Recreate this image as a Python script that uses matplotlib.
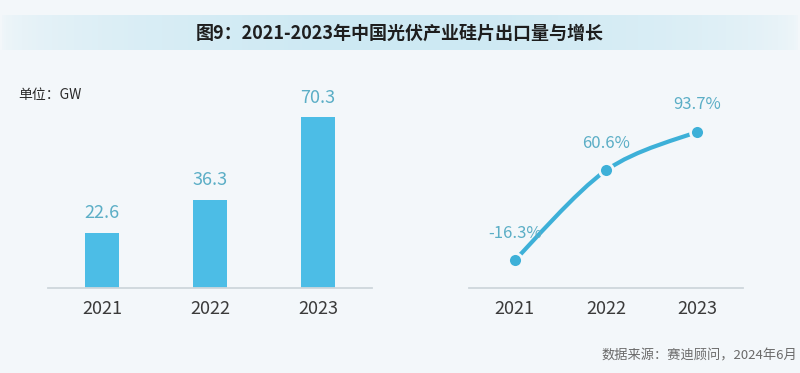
import numpy as np
import matplotlib
matplotlib.use('Agg')
import matplotlib.pyplot as plt
from matplotlib.path import Path
from matplotlib.patches import PathPatch

plt.rcParams['font.family'] = ['Noto Sans CJK SC', 'DejaVu Sans']

years = ['2021', '2022', '2023']
exports = [22.6, 36.3, 70.3]          # 出口量 GW
growth = [-16.3, 60.6, 93.7]          # 增长 %

bar_c = '#4CBDE6'
line_c = '#3DB0D8'
lab_c = '#5BAEC6'
txt_c = '#3A3A3A'
axis_c = '#CED6DC'

fig = plt.figure(figsize=(8, 3.73), dpi=100)
fig.patch.set_facecolor('#F3F7FA')

# title band with horizontal gradient
band = fig.add_axes([0, 1 - 50 / 373, 1, 35 / 373])
grad = np.abs(np.linspace(-1, 1, 400))
grad = np.clip((1 - grad) / 0.85, 0, 1) ** 0.45
cols = np.ones((1, 400, 3))
lo = np.array([0xF3, 0xF7, 0xFA]) / 255
hi = np.array([0xCD, 0xE9, 0xF3]) / 255
cols[0] = lo + (hi - lo) * grad[:, None]
band.imshow(cols, aspect='auto', extent=[0, 1, 0, 1])
band.set_axis_off()
fig.text(0.5, 1 - 33 / 373, '图9：2021-2023年中国光伏产业硅片出口量与增长',
         ha='center', va='center', fontsize=13, fontweight='bold', color='#1E1E1E')

# left: bars
ax1 = fig.add_axes([48 / 800, 85 / 373, 324 / 800, 228 / 373])
x = np.arange(len(years))
ax1.bar(x, exports, width=0.31, color=bar_c, zorder=2)
for xi, v in zip(x, exports):
    ax1.text(xi, v + 4.5, f'{v:.1f}', ha='center', va='bottom', fontsize=13, color=lab_c)
ax1.set_xlim(-0.5, 2.5)
ax1.set_ylim(0, 94)
ax1.set_xticks(x)
ax1.set_xticklabels(years, fontsize=13, color=txt_c)
ax1.tick_params(axis='x', length=0, pad=9)
ax1.set_yticks([])
for s in ['top', 'right', 'left']:
    ax1.spines[s].set_visible(False)
ax1.spines['bottom'].set_color(axis_c)
ax1.spines['bottom'].set_linewidth(1.3)
ax1.set_facecolor('none')
fig.text(18 / 800, 1 - 95 / 373, '单位：GW', ha='left', va='center', fontsize=10, color='#2A2A2A')

# right: smooth growth line
ax2 = fig.add_axes([469 / 800, 85 / 373, 274 / 800, 228 / 373])
gx = np.arange(len(years), dtype=float)
gy = np.array(growth)
# Catmull-Rom style bezier controls through the points
verts = [(gx[0], gy[0])]
codes = [Path.MOVETO]
ext_x = np.concatenate([[gx[0]], gx, [gx[-1]]])
ext_y = np.concatenate([[gy[0]], gy, [gy[-1]]])
for i in range(len(gx) - 1):
    p0 = (ext_x[i], ext_y[i]); p1 = (ext_x[i + 1], ext_y[i + 1])
    p2 = (ext_x[i + 2], ext_y[i + 2]); p3 = (ext_x[i + 3], ext_y[i + 3])
    c1 = (p1[0] + (p2[0] - p0[0]) / 6, p1[1] + (p2[1] - p0[1]) / 6)
    c2 = (p2[0] - (p3[0] - p1[0]) / 6, p2[1] - (p3[1] - p1[1]) / 6)
    verts += [c1, c2, p2]
    codes += [Path.CURVE4] * 3
ax2.add_patch(PathPatch(Path(verts, codes), facecolor='none', edgecolor=line_c,
                        lw=3.0, capstyle='round', zorder=2))
ax2.plot(gx, gy, 'o', ms=10, color=line_c, mec='#F3F7FA', mew=2, zorder=3)
for xi, v in zip(gx, gy):
    ax2.text(xi, v + 16, f'{v:.1f}%', ha='center', va='bottom', fontsize=12, color=lab_c)
ax2.set_xlim(-0.5, 2.5)
ax2.set_ylim(-40, 155)
ax2.set_xticks(gx)
ax2.set_xticklabels(years, fontsize=13, color=txt_c)
ax2.tick_params(axis='x', length=0, pad=9)
ax2.set_yticks([])
for s in ['top', 'right', 'left']:
    ax2.spines[s].set_visible(False)
ax2.spines['bottom'].set_color(axis_c)
ax2.spines['bottom'].set_linewidth(1.3)
ax2.set_facecolor('none')

fig.text(797 / 800, 1 - 356 / 373, '数据来源：赛迪顾问，2024年6月', ha='right', va='center',
         fontsize=9.5, color='#6A6A6A')

fig.savefig('out.png', dpi=100, facecolor=fig.get_facecolor())
